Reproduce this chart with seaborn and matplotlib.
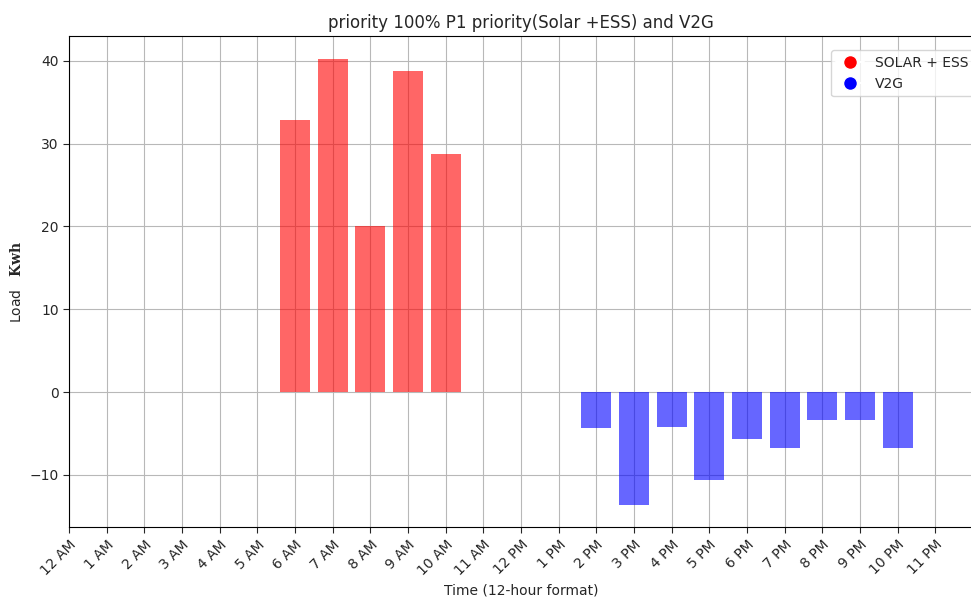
import matplotlib
matplotlib.use("Agg")
import matplotlib.pyplot as plt
import seaborn as sns
import pandas as pd
from matplotlib.lines import Line2D

sns.set_style("white")
plt.rcParams['font.family'] = ['DejaVu Sans']
plt.rcParams['mathtext.fontset'] = 'dejavuserif'

tick_labels = ["12 AM", "1 AM", "2 AM", "3 AM", "4 AM", "5 AM", "6 AM", "7 AM", "8 AM",
               "9 AM", "10 AM", "11 AM", "12 PM", "1 PM", "2 PM", "3 PM", "4 PM", "5 PM",
               "6 PM", "7 PM", "8 PM", "9 PM", "10 PM", "11 PM"]
solar_hours = [6, 7, 8, 9, 10]
solar_values = [32.8, 40.2, 20.0, 38.8, 28.8]
v2g_hours = [14, 15, 16, 17, 18, 19, 20, 21, 22]
v2g_values = [-4.3, -13.6, -4.2, -10.6, -5.7, -6.8, -3.4, -3.4, -6.8]

solar = pd.DataFrame({"hour": solar_hours, "load": solar_values})
v2g = pd.DataFrame({"hour": v2g_hours, "load": v2g_values})

fig = plt.figure(figsize=(9.71, 5.97), dpi=100)
ax = fig.add_axes([69/971, 1 - 527/597, 1 - 69/971 + 0.002, (527 - 36)/597])

sns.barplot(data=solar, x="hour", y="load", native_scale=True, color="red", alpha=0.6,
            saturation=1, width=0.8, ax=ax, errorbar=None, zorder=2)
sns.barplot(data=v2g, x="hour", y="load", native_scale=True, color="blue", alpha=0.6,
            saturation=1, width=0.8, ax=ax, errorbar=None, zorder=2)
for p in ax.patches:
    p.set_edgecolor("none")

ax.set_xlim(0, 24)
ax.set_ylim(-16.3, 43.0)
ax.set_xticks(range(24))
ax.set_xticklabels(tick_labels, rotation=45, ha="right", rotation_mode="anchor")
ax.set_yticks([-10, 0, 10, 20, 30, 40])
ax.tick_params(axis="both", which="both", length=4, direction="out", bottom=True, left=True,
               labelsize=10)
ax.grid(True, color="#b8b8b8", linewidth=0.8, zorder=0)
ax.set_axisbelow(True)
for s in ax.spines.values():
    s.set_color("black")
    s.set_linewidth(0.8)

ax.set_title("priority 100% P1 priority(Solar +ESS) and V2G", fontsize=12)
ax.set_xlabel("Time (12-hour format)", fontsize=10)
ax.set_ylabel(r"Load   $\mathbf{Kwh}$", fontsize=10)

handles = [Line2D([0], [0], marker="o", color="w", markerfacecolor="red", markersize=10,
                  label="SOLAR + ESS"),
           Line2D([0], [0], marker="o", color="w", markerfacecolor="blue", markersize=10,
                  label="V2G")]
ax.legend(handles=handles, loc="upper left", bbox_to_anchor=(0.835, 0.985), fontsize=10,
          frameon=True, framealpha=0.8, edgecolor="#cccccc")

fig.savefig("out.png", dpi=100)
